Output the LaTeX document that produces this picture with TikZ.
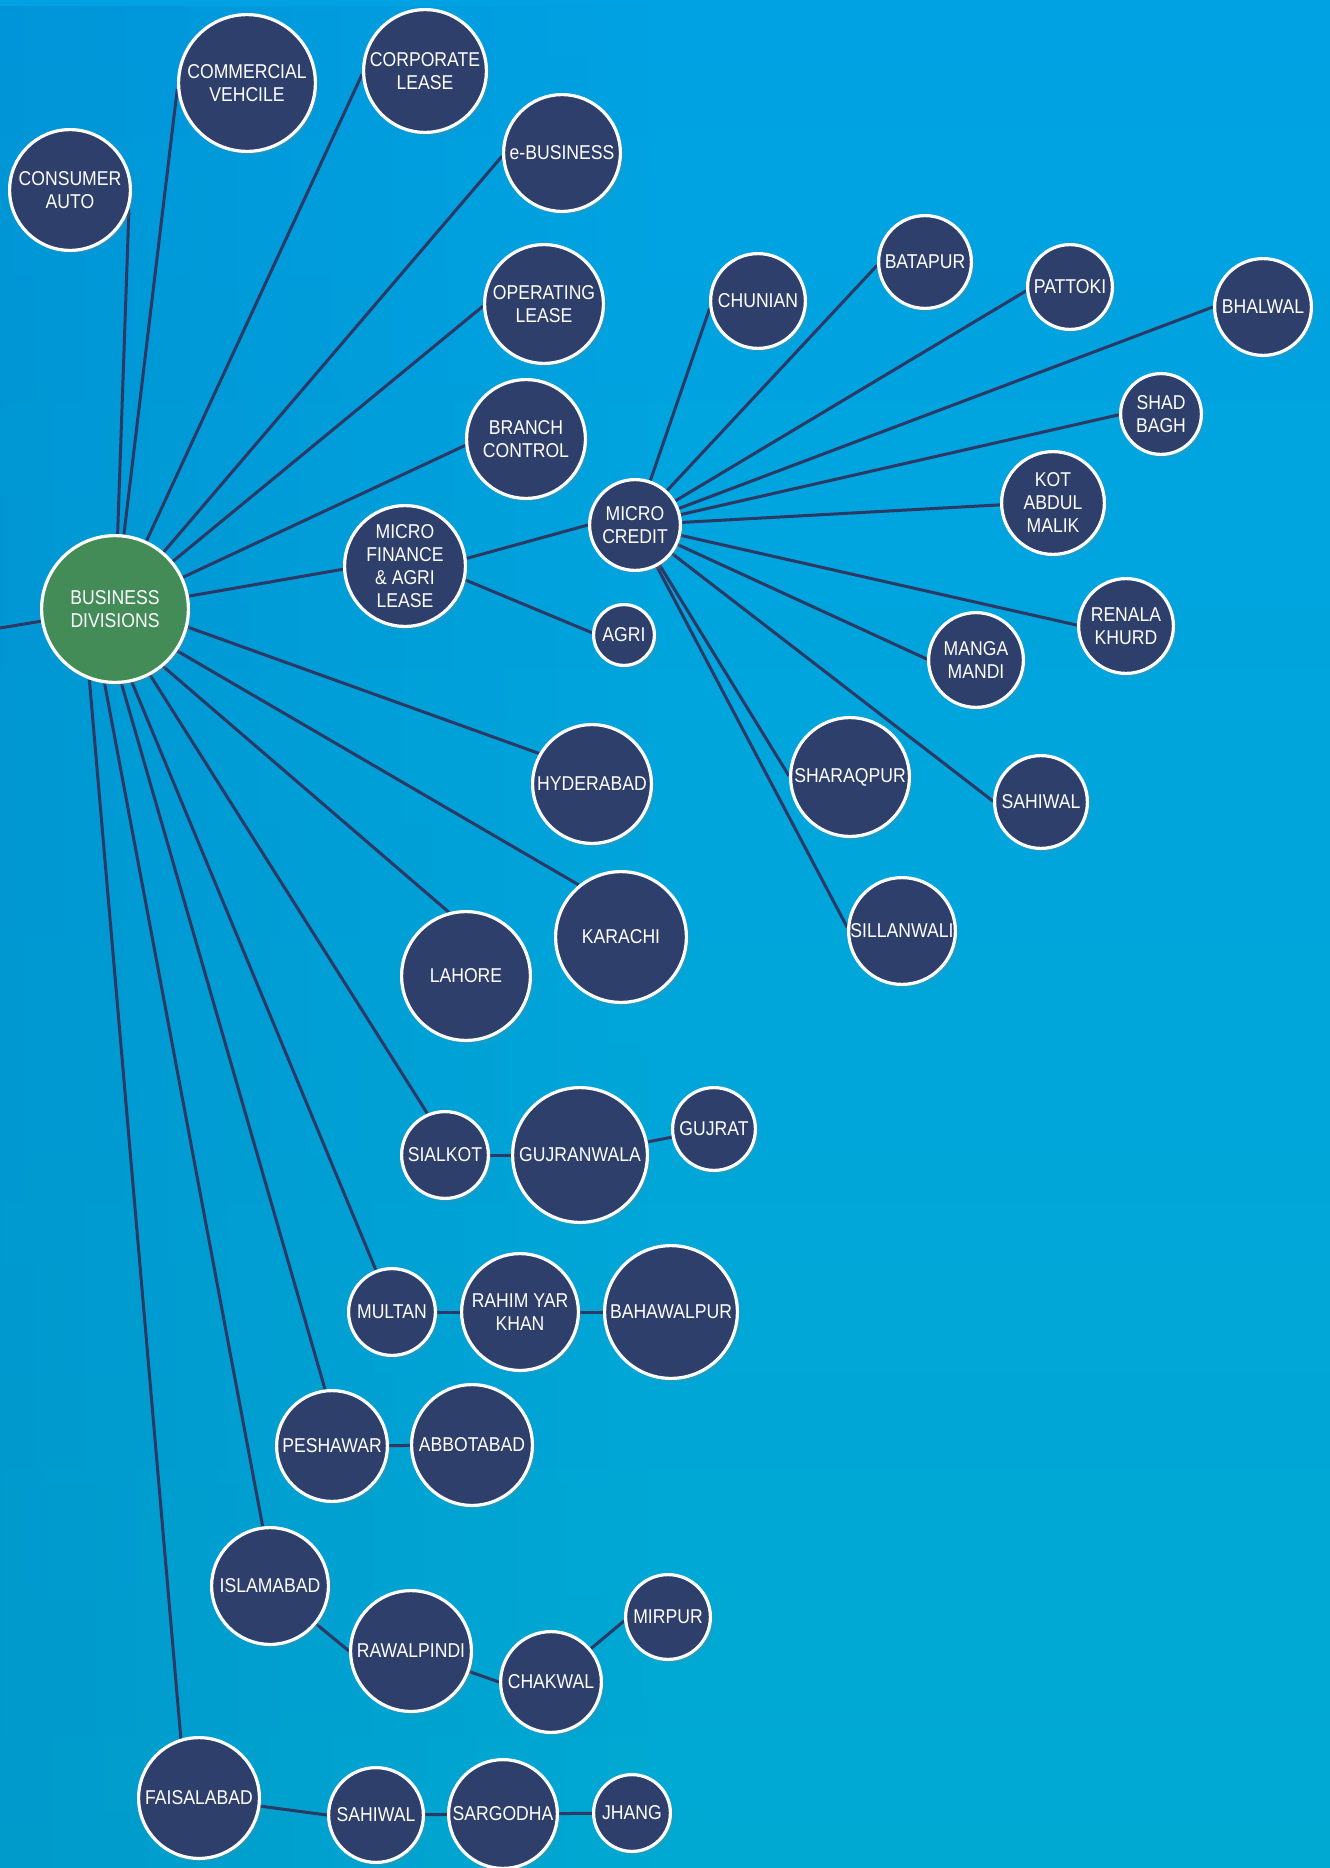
\documentclass[tikz,border=0pt]{standalone}
\usepackage{fontspec}
\setmainfont{Liberation Sans}[FakeStretch=0.88]
\usetikzlibrary{shadows,fadings}
\definecolor{navy}{HTML}{2E3F6B}
\definecolor{linec}{HTML}{2B3964}
\definecolor{grn}{HTML}{438C58}
\definecolor{bgtop}{HTML}{00A2E3}
\definecolor{bgmid}{HTML}{00B2D3}
\definecolor{bgbot}{HTML}{00A9D2}
\definecolor{bgdark}{HTML}{0070B8}
\pgfdeclarelayer{bgl}
\pgfdeclarelayer{edges}
\pgfsetlayers{bgl,edges,main}
\tikzset{
  bub/.style={circle, draw=white, line width=3.2pt, fill=navy, text=white,
    inner sep=0pt, minimum size={2*#1-3.2}, align=center,
    font=\fontsize{20}{23}\selectfont,
    drop shadow={opacity=0.22, shadow xshift=3pt, shadow yshift=-3.5pt}},
  link/.style={draw=linec, line width=3pt}
}
\begin{document}
\begin{tikzpicture}[x=1pt,y=-1pt]
\useasboundingbox (0,0) rectangle (1330,1868);
\begin{pgfonlayer}{bgl}
  \shade[top color=bgtop, middle color=bgmid, bottom color=bgbot] (0,0) rectangle (1330,1868);
  \fill[bgdark, path fading=east, fill opacity=0.25] (0,0) rectangle (650,1868);
\end{pgfonlayer}

% main hub
\node[bub=75, fill=grn] (bd) at (115,609) {BUSINESS\\DIVISIONS};
\coordinate (lft) at (0,628);

% upper branches
\node[bub=62] (ca) at (70,190) {CONSUMER\\AUTO};
\node[bub=70] (cv) at (247,83) {COMMERCIAL\\VEHCILE};
\node[bub=63] (cl) at (425,71) {CORPORATE\\LEASE};
\node[bub=60] (eb) at (562,153) {e-BUSINESS};
\node[bub=61] (ol) at (544,304) {OPERATING\\LEASE};
\node[bub=61] (bc) at (526,439) {BRANCH\\CONTROL};
\node[bub=62] (mfal) at (405,566) {MICRO\\FINANCE\\\& AGRI\\LEASE};
\node[bub=47] (mc) at (635,525) {MICRO\\CREDIT};
\node[bub=32] (agri) at (624,635) {AGRI};

% micro credit branches
\node[bub=49] (chun) at (758,301) {CHUNIAN};
\node[bub=48] (bata) at (925,262) {BATAPUR};
\node[bub=44] (patt) at (1070,287) {PATTOKI};
\node[bub=50] (bhal) at (1263,307) {BHALWAL};
\node[bub=42] (shad) at (1161,414) {SHAD\\BAGH};
\node[bub=53] (kot) at (1053,503) {KOT\\ABDUL\\MALIK};
\node[bub=49] (ren) at (1126,626) {RENALA\\KHURD};
\node[bub=49] (manga) at (976,660) {MANGA\\MANDI};
\node[bub=61] (shq) at (850,777) {SHARAQPUR};
\node[bub=48] (sahr) at (1041,802) {SAHIWAL};
\node[bub=55] (sill) at (902,931) {SILLANWALI};

% city branches
\node[bub=61] (hyd) at (592,784) {HYDERABAD};
\node[bub=67] (kar) at (621,937) {KARACHI};
\node[bub=66] (lah) at (466,976) {LAHORE};
\node[bub=45] (sia) at (445,1155) {SIALKOT};
\node[bub=69] (guj) at (580,1155) {GUJRANWALA};
\node[bub=43] (gut) at (714,1129) {GUJRAT};
\node[bub=45] (mul) at (392,1312) {MULTAN};
\node[bub=60] (rah) at (520,1312) {RAHIM YAR\\KHAN};
\node[bub=68] (bah) at (671,1312) {BAHAWALPUR};
\node[bub=57] (pes) at (332,1446) {PESHAWAR};
\node[bub=62] (abb) at (472,1445) {ABBOTABAD};
\node[bub=60] (isl) at (270,1586) {ISLAMABAD};
\node[bub=62] (raw) at (411,1651) {RAWALPINDI};
\node[bub=52] (chak) at (551,1682) {CHAKWAL};
\node[bub=44] (mir) at (668,1617) {MIRPUR};
\node[bub=62] (fai) at (199,1798) {FAISALABAD};
\node[bub=49] (sahb) at (376,1815) {SAHIWAL};
\node[bub=56] (sar) at (503,1814) {SARGODHA};
\node[bub=40] (jha) at (632,1813) {JHANG};

\begin{pgfonlayer}{edges}
  % from business divisions
  \draw[link] (bd.center) -- (lft);
  \draw[link] (bd.center) -- (ca.-18);
  \draw[link] (bd.center) -- (cv.185);
  \draw[link] (bd.center) -- (cl.183);
  \draw[link] (bd.center) -- (eb.183);
  \draw[link] (bd.center) -- (ol.182);
  \draw[link] (bd.center) -- (bc.186);
  \draw[link] (bd.center) -- (mfal.183);
  \draw[link] (bd.-14) -- (hyd.150);
  \draw[link] (bd.-34) -- (kar.129);
  \draw[link] (bd.-50) -- (lah.105);
  \draw[link] (bd.-62) -- (sia.113);
  \draw[link] (bd.-77) -- (mul.111);
  \draw[link] (bd.-85) -- (pes.97);
  \draw[link] (bd.-98) -- (isl.97);
  \draw[link] (bd.-110) -- (fai.107.5);
  % micro finance
  \draw[link] (mfal.7) -- (mc.180);
  \draw[link] (mfal.-13) -- (agri.176);
  % micro credit
  \draw[link] (mc.center) -- (chun.189);
  \draw[link] (mc.center) -- (bata.184);
  \draw[link] (mc.center) -- (patt.185);
  \draw[link] (mc.center) -- (bhal.180);
  \draw[link] (mc.center) -- (shad.181);
  \draw[link] (mc.center) -- (kot.182);
  \draw[link] (mc.center) -- (ren.179);
  \draw[link] (mc.center) -- (manga.179);
  \draw[link] (mc.center) -- (shq.179);
  \draw[link] (mc.center) -- (sahr.179);
  \draw[link] (mc.center) -- (sill.176);
  % city chains
  \draw[link] (sia.center) -- (guj.center);
  \draw[link] (guj.center) -- (gut.center);
  \draw[link] (mul.center) -- (rah.center);
  \draw[link] (rah.center) -- (bah.center);
  \draw[link] (pes.center) -- (abb.center);
  \draw[link] (isl.center) -- (raw.180);
  \draw[link] (raw.center) -- (chak.180);
  \draw[link] (chak.center) -- (mir.185);
  \draw[link] (fai.center) -- (sahb.180);
  \draw[link] (sahb.center) -- (sar.center);
  \draw[link] (sar.center) -- (jha.center);
\end{pgfonlayer}
\end{tikzpicture}
\end{document}
